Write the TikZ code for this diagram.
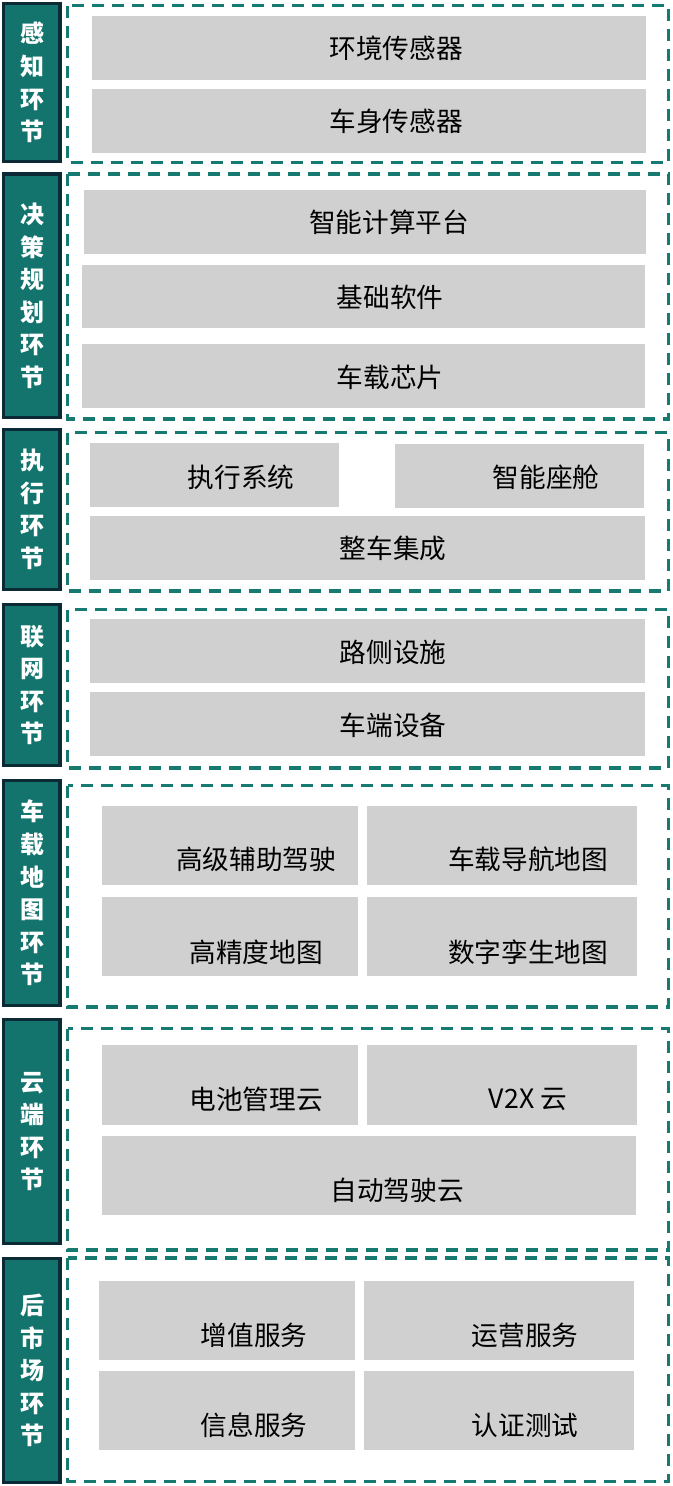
\documentclass[tikz,border=0pt]{standalone}
\usepackage{fontspec}
\setmainfont{Noto Sans CJK SC}
\definecolor{tabteal}{HTML}{13746E}
\definecolor{tabedge}{HTML}{0C2A35}
\definecolor{frameteal}{HTML}{177A70}
\definecolor{cellgray}{HTML}{D0D0D0}
\tikzset{
    tab/.style={draw=tabedge,fill=tabteal,line width=2.6pt},
    tabtext/.style={text=white,align=center,inner sep=0pt,
        font=\fontsize{18}{24.4}\selectfont\bfseries},
    frame/.style={draw=frameteal,line width=2.4pt,dash pattern=on 9pt off 6pt},
    cell/.style={fill=cellgray},
    word/.style={text=black,inner sep=0pt,font=\fontsize{20}{24}\selectfont}
}

\begin{document}
\begin{tikzpicture}[x=0.75pt,y=-0.75pt]
    \useasboundingbox (0,0) rectangle (672,1486);

    % Perception
    \draw[tab] (3.5,3.5) rectangle (60,161.5);
    \node[tabtext] (sense) at (33,82.5) {感\\知\\环\\节};
    \draw[frame] (67.5,5.5) rectangle (668.5,162.5);
    \fill[cell] (92,16) rectangle (646,80);
    \fill[cell] (92,89) rectangle (646,153);
    \node[word] (envsensor) at (396,48) {环境传感器};
    \node[word] (bodysensor) at (396,121) {车身传感器};

    % Decision and planning
    \draw[tab] (3.5,174) rectangle (60,417.5);
    \node[tabtext] (decide) at (33,296) {决\\策\\规\\划\\环\\节};
    \draw[frame] (67.5,174) rectangle (668.5,419);
    \fill[cell] (84,190) rectangle (646,254);
    \fill[cell] (82,265) rectangle (645,328);
    \fill[cell] (82,344) rectangle (645,408);
    \node[word] (compute) at (389,222) {智能计算平台};
    \node[word] (software) at (390,297) {基础软件};
    \node[word] (chip) at (390,377) {车载芯片};

    % Execution
    \draw[tab] (3.5,429.5) rectangle (60,589.5);
    \node[tabtext] (execute) at (33,509.5) {执\\行\\环\\节};
    \draw[frame] (67.5,432.5) rectangle (668.5,591);
    \fill[cell] (90,443) rectangle (339,507);
    \fill[cell] (395,444) rectangle (644,508);
    \fill[cell] (90,516) rectangle (645,580);
    \node[word] (actuator) at (241,477) {执行系统};
    \node[word] (cockpit) at (546,477) {智能座舱};
    \node[word] (vehicle) at (393,548) {整车集成};

    % Networking
    \draw[tab] (3.5,604.5) rectangle (60,765.5);
    \node[tabtext] (network) at (33,685) {联\\网\\环\\节};
    \draw[frame] (67.5,609.5) rectangle (668.5,768);
    \fill[cell] (90,619) rectangle (645,683);
    \fill[cell] (90,692) rectangle (645,756);
    \node[word] (roadside) at (393,652) {路侧设施};
    \node[word] (onboard) at (393,725) {车端设备};

    % In-vehicle maps
    \draw[tab] (3.5,780.5) rectangle (60,1005.5);
    \node[tabtext] (maps) at (33,893) {车\\载\\地\\图\\环\\节};
    \draw[frame] (67.5,785.5) rectangle (668.5,1007);
    \fill[cell] (102,806) rectangle (358,885);
    \fill[cell] (367,806) rectangle (637,885);
    \fill[cell] (102,897) rectangle (358,976);
    \fill[cell] (367,897) rectangle (637,976);
    \node[word] (adas) at (256,859) {高级辅助驾驶};
    \node[word] (navmap) at (528,859) {车载导航地图};
    \node[word] (hdmap) at (256,952) {高精度地图};
    \node[word] (twinmap) at (528,952) {数字孪生地图};

    % Cloud
    \draw[tab] (3.5,1019.5) rectangle (60,1243.5);
    \node[tabtext] (cloud) at (33,1131.5) {云\\端\\环\\节};
    \draw[frame] (67.5,1028.5) rectangle (668.5,1250);
    \fill[cell] (102,1045) rectangle (358,1125);
    \fill[cell] (367,1045) rectangle (637,1125);
    \fill[cell] (102,1136) rectangle (636,1215);
    \node[word] (battery) at (256,1099) {电池管理云};
    \node[word] (vtox) at (528,1099) {V2X 云};
    \node[word] (autodrive) at (397,1190) {自动驾驶云};

    % Aftermarket
    \draw[tab] (3.5,1258.5) rectangle (60,1482.5);
    \node[tabtext] (after) at (33,1370.5) {后\\市\\场\\环\\节};
    \draw[frame] (67.5,1258) rectangle (668.5,1481.5);
    \fill[cell] (99,1281) rectangle (355,1360);
    \fill[cell] (364,1281) rectangle (634,1360);
    \fill[cell] (99,1371) rectangle (355,1450);
    \fill[cell] (364,1371) rectangle (634,1450);
    \node[word] (valueadd) at (254,1335) {增值服务};
    \node[word] (operate) at (525,1335) {运营服务};
    \node[word] (info) at (254,1425) {信息服务};
    \node[word] (certify) at (525,1425) {认证测试};

\end{tikzpicture}
\end{document}
